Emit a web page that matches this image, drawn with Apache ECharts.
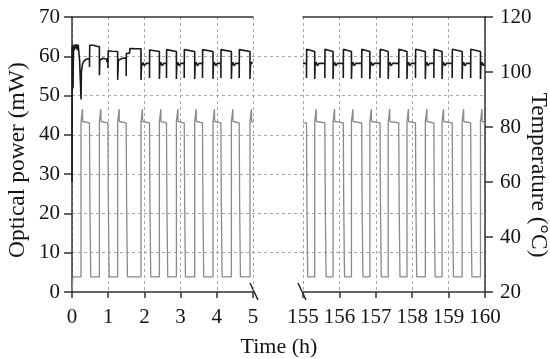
<!DOCTYPE html>
<html>
<head>
<meta charset="utf-8">
<script src="https://cdn.jsdelivr.net/npm/echarts@6/dist/echarts.min.js"></script>
<style>html,body{margin:0;padding:0;background:#fff}#c{width:550px;height:359px}</style>
</head>
<body>
<div id="c"></div>
<script>
// ---- tick labels ----
const xTicksLeft = [0, 1, 2, 3, 4, 5];
const xTicksRight = [155, 156, 157, 158, 159, 160];
const powerTicks = [0, 10, 20, 30, 40, 50, 60, 70];
const tempTicks = [20, 40, 60, 80, 100, 120];

// ---- temperature (°C) vs time (h) ----
const tempLeft = [
[0,20.5],[0.02,20.5],[0.025,25.5],
[0.249,25.5],[0.249,82],[0.289,82.3],[0.289,86.5],[0.294,82],[0.483,81.5],[0.495,52],[0.513,30],[0.518,25.5],
[0.757,25.5],[0.757,82],[0.797,82.3],[0.797,86.5],[0.802,82],[0.992,81.5],[1.004,52],[1.022,30],[1.027,25.5],
[1.262,25.5],[1.262,82],[1.302,82.3],[1.302,86.5],[1.307,82],[1.497,81.5],[1.509,52],[1.527,30],[1.532,25.5],
[1.906,25.5],[1.906,82],[1.946,82.3],[1.946,86.5],[1.951,82],[2.141,81.5],[2.153,52],[2.171,30],[2.176,25.5],
[2.414,25.5],[2.414,82],[2.454,82.3],[2.454,86.5],[2.459,82],[2.610,81.5],[2.622,52],[2.640,30],[2.645,25.5],
[2.884,25.5],[2.884,82],[2.924,82.3],[2.924,86.5],[2.929,82],[3.100,81.5],[3.112,52],[3.130,30],[3.135,25.5],
[3.390,25.5],[3.390,82],[3.430,82.3],[3.430,86.5],[3.435,82],[3.605,81.5],[3.617,52],[3.635,30],[3.640,25.5],
[3.895,25.5],[3.895,82],[3.935,82.3],[3.935,86.5],[3.940,82],[4.113,81.5],[4.125,52],[4.143,30],[4.148,25.5],
[4.403,25.5],[4.403,82],[4.443,82.3],[4.443,86.5],[4.448,82],[4.619,81.5],[4.631,52],[4.649,30],[4.654,25.5],
[4.917,25.5],[4.917,82],[4.957,82.3],[4.957,86.5],[4.962,82],[5.0,81.5]
];
const tempRight = [
[155,81.5],
[155.096,81.5],[155.108,52],[155.126,30],[155.131,25.5],
[155.322,25.5],[155.322,82],[155.362,82.3],[155.362,86.5],[155.367,82],
[155.600,81.5],[155.612,52],[155.630,30],[155.635,25.5],
[155.826,25.5],[155.826,82],[155.866,82.3],[155.866,86.5],[155.871,82],
[156.107,81.5],[156.119,52],[156.137,30],[156.142,25.5],
[156.331,25.5],[156.331,82],[156.371,82.3],[156.371,86.5],[156.376,82],
[156.612,81.5],[156.624,52],[156.642,30],[156.647,25.5],
[156.837,25.5],[156.837,82],[156.877,82.3],[156.877,86.5],[156.882,82],
[157.116,81.5],[157.128,52],[157.146,30],[157.151,25.5],
[157.342,25.5],[157.342,82],[157.382,82.3],[157.382,86.5],[157.387,82],
[157.630,81.5],[157.642,52],[157.660,30],[157.665,25.5],
[157.857,25.5],[157.857,82],[157.897,82.3],[157.897,86.5],[157.902,82],
[158.090,81.5],[158.102,52],[158.120,30],[158.125,25.5],
[158.361,25.5],[158.361,82],[158.401,82.3],[158.401,86.5],[158.406,82],
[158.595,81.5],[158.607,52],[158.625,30],[158.630,25.5],
[158.821,25.5],[158.821,82],[158.861,82.3],[158.861,86.5],[158.866,82],
[159.099,81.5],[159.111,52],[159.129,30],[159.134,25.5],
[159.372,25.5],[159.372,82],[159.412,82.3],[159.412,86.5],[159.417,82],
[159.606,81.5],[159.618,52],[159.636,30],[159.641,25.5],
[159.876,25.5],[159.876,82],[159.916,82.3],[159.916,86.5],[159.921,82],[160,81.5]
];

// ---- optical power (mW) vs time (h) ----
const powerLeft = [
[0,28],[0.005,62.5],[0.012,51.5],[0.02,63],[0.03,52],[0.04,62.5],[0.06,61.5],[0.075,63],[0.09,62],[0.12,63],[0.15,61.6],[0.17,63],[0.2,62.8],[0.21,59],[0.24,59.2],[0.25,49],[0.26,56],[0.29,58],[0.33,58.8],[0.4,59.3],[0.483,59.4],[0.483,57.3],[0.49,62.8],[0.6,62.8],[0.7,62.5],[0.757,62.5],
[0.757,55.2],[0.77,59],[0.85,59.5],[0.95,59.3],[0.97,58.5],[0.992,59.4],[0.992,57],[1.0,61.4],[1.1,61.3],[1.262,61.2],
[1.262,54],[1.28,59],[1.40,59.5],[1.497,59.6],[1.497,55],[1.5,60.7],[1.59,60.8],[1.6,62],[1.8,61.9],[1.906,61.9],
[1.906,54],[1.92,57.5],[1.96,58.4],[2.0,57.6],[2.05,58.2],
[2.141,58.2],[2.141,54.5],[2.145,61.6],[2.19,61.4],[2.414,61.2],
[2.414,54.2],[2.424,57.6],[2.452,58.5],[2.492,57.6],[2.532,58.2],
[2.61,58.2],[2.61,54.5],[2.614,61.7],[2.66,61.4],[2.884,61.2],
[2.884,54.2],[2.894,57.6],[2.922,58.5],[2.962,57.6],[3.002,58.2],
[3.1,58.2],[3.1,54.5],[3.104,61.7],[3.15,61.4],[3.39,61.2],
[3.39,54.2],[3.4,57.6],[3.428,58.5],[3.468,57.6],[3.508,58.2],
[3.605,58.2],[3.605,54.5],[3.609,61.7],[3.655,61.4],[3.895,61.2],
[3.895,54.2],[3.905,57.6],[3.933,58.5],[3.973,57.6],[4.013,58.2],
[4.113,58.2],[4.113,54.5],[4.117,61.7],[4.163,61.4],[4.403,61.2],
[4.403,54.2],[4.413,57.6],[4.441,58.5],[4.481,57.6],[4.521,58.2],
[4.619,58.2],[4.619,54.5],[4.623,61.7],[4.669,61.4],[4.917,61.2],
[4.917,54.2],[4.927,57.6],[4.955,58.5],[4.99,58.2]
];
const powerRight = [
[155,58.2],[155.04,58.0],
[155.096,58.2],[155.096,54.5],[155.1,61.8],[155.15,61.5],[155.322,61.2],
[155.322,54.2],[155.332,57.6],[155.36,58.5],[155.40,57.6],[155.44,58.2],
[155.600,58.2],[155.600,54.5],[155.604,61.8],[155.654,61.5],[155.826,61.2],
[155.826,54.2],[155.836,57.6],[155.864,58.5],[155.904,57.6],[155.944,58.2],
[156.107,58.2],[156.107,54.5],[156.111,61.8],[156.161,61.5],[156.331,61.2],
[156.331,54.2],[156.341,57.6],[156.369,58.5],[156.409,57.6],[156.449,58.2],
[156.612,58.2],[156.612,54.5],[156.616,61.8],[156.666,61.5],[156.837,61.2],
[156.837,54.2],[156.847,57.6],[156.875,58.5],[156.915,57.6],[156.955,58.2],
[157.116,58.2],[157.116,54.5],[157.12,61.8],[157.17,61.5],[157.342,61.2],
[157.342,54.2],[157.352,57.6],[157.38,58.5],[157.42,57.6],[157.46,58.2],
[157.63,58.2],[157.63,54.5],[157.634,61.8],[157.684,61.5],[157.857,61.2],
[157.857,54.2],[157.867,57.6],[157.895,58.5],[157.935,57.6],[157.975,58.2],
[158.09,58.2],[158.09,54.5],[158.094,61.8],[158.144,61.5],[158.361,61.2],
[158.361,54.2],[158.371,57.6],[158.399,58.5],[158.439,57.6],[158.479,58.2],
[158.595,58.2],[158.595,54.5],[158.599,61.8],[158.649,61.5],[158.821,61.2],
[158.821,54.2],[158.831,57.6],[158.859,58.5],[158.899,57.6],[158.939,58.2],
[159.099,58.2],[159.099,54.5],[159.103,61.8],[159.153,61.5],[159.372,61.2],
[159.372,54.2],[159.382,57.6],[159.41,58.5],[159.45,57.6],[159.49,58.2],
[159.606,58.2],[159.606,54.5],[159.61,61.8],[159.66,61.5],[159.876,61.2],
[159.876,54.2],[159.886,57.6],[159.914,58.5],[159.954,57.6],[159.99,58.2]
];

const FONT = 'Liberation Serif';
const AX = '#333';
const GRIDC = '#a8a8a8';
const TXT = '#141414';
const label = {fontFamily: FONT, fontSize: 21, color: TXT};

const chart = echarts.init(document.getElementById('c'), null, {renderer: 'canvas'});

function bottomAxis(gi, ticks) {
  return {
    type: 'value', gridIndex: gi, position: 'bottom',
    min: ticks[0], max: ticks[ticks.length - 1], interval: 1,
    axisLine: {lineStyle: {color: AX, width: 1.5}},
    axisTick: {show: true, length: 6, lineStyle: {color: AX, width: 1.5}},
    axisLabel: Object.assign({margin: 15}, label),
    splitLine: {show: true, lineStyle: {color: GRIDC, type: [3, 3], width: 1}}
  };
}
function topAxis(gi, ticks) {
  return {
    type: 'value', gridIndex: gi, position: 'top',
    min: ticks[0], max: ticks[ticks.length - 1],
    axisLine: {show: true, lineStyle: {color: AX, width: 1.5}},
    axisTick: {show: false}, axisLabel: {show: false}, splitLine: {show: false}
  };
}

const option = {
  animation: false,
  backgroundColor: '#fff',
  grid: [
    {left: 72, top: 17, width: 181, height: 275},
    {left: 303, top: 17, width: 182, height: 275},
    {left: 72, top: 56.29, width: 413, height: 196.43}
  ],
  xAxis: [
    bottomAxis(0, xTicksLeft),
    bottomAxis(1, xTicksRight),
    topAxis(0, xTicksLeft),
    topAxis(1, xTicksRight),
    {type: 'value', gridIndex: 2, min: 0, max: 1, show: false}
  ],
  yAxis: [
    {type: 'value', gridIndex: 0, position: 'left',
     min: powerTicks[0], max: powerTicks[powerTicks.length - 1], interval: 10,
     axisLine: {show: true, lineStyle: {color: AX, width: 1.5}},
     axisTick: {show: true, length: 8, lineStyle: {color: AX, width: 1.5}},
     axisLabel: Object.assign({margin: 12}, label),
     splitLine: {show: false}},
    {type: 'value', gridIndex: 0, position: 'right',
     min: tempTicks[0], max: tempTicks[tempTicks.length - 1], show: false},
    {type: 'value', gridIndex: 1, position: 'left',
     min: powerTicks[0], max: powerTicks[powerTicks.length - 1], show: false},
    {type: 'value', gridIndex: 1, position: 'right',
     min: tempTicks[0], max: tempTicks[tempTicks.length - 1], interval: 20,
     axisLine: {show: true, lineStyle: {color: AX, width: 1.5}},
     axisTick: {show: true, length: 8, lineStyle: {color: AX, width: 1.5}},
     axisLabel: Object.assign({margin: 15}, label),
     splitLine: {show: false}},
    {type: 'value', gridIndex: 2, min: 10, max: 60, interval: 10,
     axisLine: {show: false}, axisTick: {show: false}, axisLabel: {show: false},
     splitLine: {show: true, lineStyle: {color: GRIDC, type: [3, 3], width: 1}}}
  ],
  graphic: [
    {type: 'line', shape: {x1: 250, y1: 283, x2: 258, y2: 300}, style: {stroke: '#222', lineWidth: 1.5}},
    {type: 'line', shape: {x1: 298, y1: 283, x2: 306, y2: 300}, style: {stroke: '#222', lineWidth: 1.5}},
    {type: 'text', x: 279, y: 347, style: {text: 'Time (h)', font: '22px "Liberation Serif"', fill: TXT, textAlign: 'center', textVerticalAlign: 'middle'}},
    {type: 'text', x: 18, y: 160, rotation: Math.PI / 2, style: {text: 'Optical power (mW)', font: '23.5px "Liberation Serif"', fill: TXT, textAlign: 'center', textVerticalAlign: 'middle'}},
    {type: 'text', x: 538.5, y: 175, rotation: -Math.PI / 2, style: {text: 'Temperature (°C)', font: '23.5px "Liberation Serif"', fill: TXT, textAlign: 'center', textVerticalAlign: 'middle'}}
  ],
  series: [
    {type: 'line', xAxisIndex: 0, yAxisIndex: 1, data: tempLeft, showSymbol: false, symbol: 'none',
     lineStyle: {color: '#8a8a8a', width: 1.3}, z: 2},
    {type: 'line', xAxisIndex: 1, yAxisIndex: 3, data: tempRight, showSymbol: false, symbol: 'none',
     lineStyle: {color: '#8a8a8a', width: 1.3}, z: 2},
    {type: 'line', xAxisIndex: 0, yAxisIndex: 0, data: powerLeft, showSymbol: false, symbol: 'none',
     lineStyle: {color: '#1a1a1a', width: 1.6}, z: 3},
    {type: 'line', xAxisIndex: 1, yAxisIndex: 2, data: powerRight, showSymbol: false, symbol: 'none',
     lineStyle: {color: '#1a1a1a', width: 1.6}, z: 3}
  ]
};
chart.setOption(option);
</script>
</body>
</html>
